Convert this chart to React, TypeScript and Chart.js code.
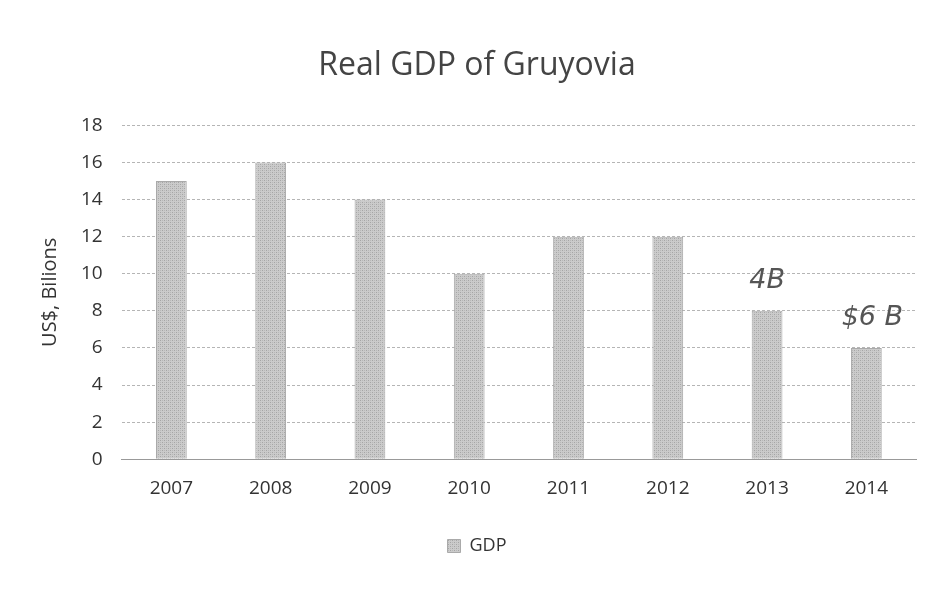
import React, { useEffect, useRef } from "react";
import { Chart, registerables } from "chart.js";

Chart.register(...registerables);

const years = ["2007", "2008", "2009", "2010", "2011", "2012", "2013", "2014"];
const gdp = [15, 16, 14, 10, 12, 12, 8, 6];
const notes = ["", "", "", "", "", "", "4B", "$6 B"];
const chartTitle = "Real GDP of Gruyovia";
const yTitle = "US$, Bilions";
const seriesName = "GDP";

const FONT = "'Open Sans', 'Noto Sans', sans-serif";

function makePattern(): CanvasPattern | string {
  const c = document.createElement("canvas");
  c.width = 4;
  c.height = 4;
  const g = c.getContext("2d");
  if (!g) return "#c4c4c4";
  g.fillStyle = "#cbcbcb";
  g.fillRect(0, 0, 4, 4);
  g.fillStyle = "#a5a5a5";
  g.fillRect(0, 0, 1, 1);
  g.fillRect(2, 2, 1, 1);
  g.fillStyle = "#b8b8b8";
  g.fillRect(2, 0, 1, 1);
  g.fillRect(0, 2, 1, 1);
  const p = g.createPattern(c, "repeat");
  return p || "#c4c4c4";
}

const notesPlugin = {
  id: "notes",
  afterDatasetsDraw(chart: any) {
    const ctx = chart.ctx;
    const meta = chart.getDatasetMeta(0);
    ctx.save();
    ctx.fillStyle = "#555";
    ctx.font = "italic 27px 'DejaVu Sans', sans-serif";
    ctx.textAlign = "center";
    ctx.textBaseline = "bottom";
    notes.forEach((n, i) => {
      if (!n) return;
      const el = meta.data[i];
      ctx.fillText(n, el.x + (i === 7 ? 6 : 0), el.y - 16);
    });
    ctx.restore();
  },
};

export default function App() {
  const ref = useRef<HTMLCanvasElement>(null);
  useEffect(() => {
    if (!ref.current) return;
    const chart = new Chart(ref.current, {
      type: "bar",
      data: {
        labels: years,
        datasets: [
          {
            label: seriesName,
            data: gdp,
            backgroundColor: makePattern() as any,
            borderColor: "#aaaaaa",
            borderWidth: 1,
            barPercentage: 0.62,
            categoryPercentage: 0.5,
          },
        ],
      },
      options: {
        animation: false,
        responsive: false,
        maintainAspectRatio: false,
        layout: { padding: { left: 38, right: 32, top: 20, bottom: 28 } },
        plugins: {
          title: {
            display: true,
            text: chartTitle,
            color: "#444",
            font: { family: FONT, size: 32, weight: "normal" },
            padding: { top: 27, bottom: 40 },
          },
          legend: {
            display: true,
            position: "bottom",
            labels: {
              color: "#333",
              font: { family: FONT, size: 18 },
              boxWidth: 13,
              boxHeight: 13,
              padding: 19,
            },
          },
          tooltip: { enabled: false },
        },
        scales: {
          x: {
            grid: { display: false, drawTicks: false },
            border: { display: true, color: "#999" },
            ticks: { color: "#333", font: { family: FONT, size: 19 }, padding: 18 },
          },
          y: {
            min: 0,
            max: 18,
            ticks: { stepSize: 2, color: "#333", font: { family: FONT, size: 19 }, padding: 19 },
            grid: { color: "#b5b5b5", drawTicks: false },
            border: { display: false, dash: [3, 2] },
            title: {
              display: true,
              text: yTitle,
              color: "#333",
              font: { family: FONT, size: 20 },
              padding: { top: 0, bottom: 0 },
            },
          },
        },
      },
      plugins: [notesPlugin],
    });
    return () => chart.destroy();
  }, []);
  return (
    <div style={{ position: "absolute", left: 0, top: 0, width: 948, height: 593, background: "#fff" }}>
      <canvas ref={ref} width={948} height={593} />
    </div>
  );
}
